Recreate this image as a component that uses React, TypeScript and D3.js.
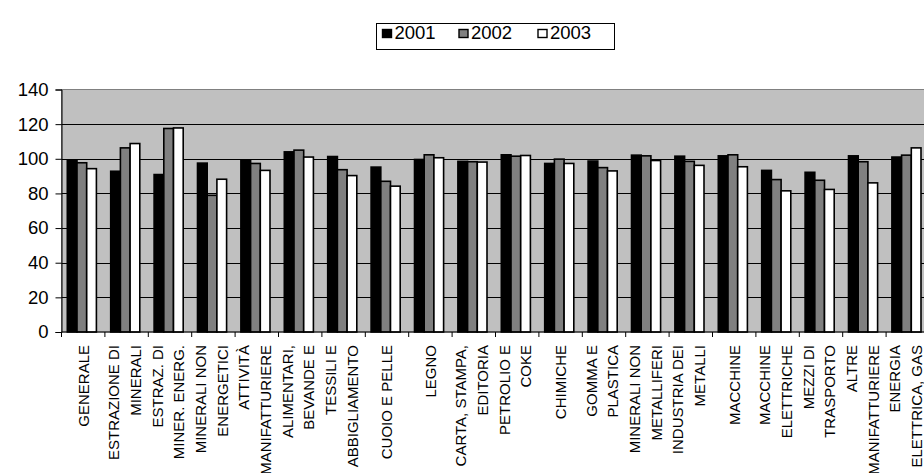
import React, { useRef, useEffect } from 'react';
import * as d3 from 'd3';

// category labels, one entry per line of the wrapped label
const categories: string[][] = [
  ['GENERALE'],
  ['ESTRAZIONE DI', 'MINERALI'],
  ['ESTRAZ. DI', 'MINER. ENERG.'],
  ['MINERALI NON', 'ENERGETICI'],
  ['ATTIVITÀ', 'MANIFATTURIERE'],
  ['ALIMENTARI,', 'BEVANDE E'],
  ['TESSILI E', 'ABBIGLIAMENTO'],
  ['CUOIO E PELLE'],
  ['LEGNO'],
  ['CARTA, STAMPA,', 'EDITORIA'],
  ['PETROLIO E', 'COKE'],
  ['CHIMICHE'],
  ['GOMMA E', 'PLASTICA'],
  ['MINERALI NON', 'METALLIFERI'],
  ['INDUSTRIA DEI', 'METALLI'],
  ['MACCHINE'],
  ['MACCHINE', 'ELETTRICHE'],
  ['MEZZI DI', 'TRASPORTO'],
  ['ALTRE', 'MANIFATTURIERE'],
  ['ENERGIA', 'ELETTRICA, GAS'],
];

const years = ['2001', '2002', '2003'];

const values2001 = [99.4, 92.8, 90.9, 97.5, 99.4, 104, 101.3, 95.2, 99.6, 98.5, 102.3, 97.3, 98.7, 102.1, 101.5, 101.7, 93.3, 92.2, 101.7, 101];
const values2002 = [97.7, 106.3, 117.5, 78.9, 97.3, 105, 93.7, 87, 102.3, 98.3, 101.5, 99.8, 94.9, 101.7, 98.5, 102.3, 88, 87.6, 98.3, 102.1];
const values2003 = [94.3, 108.8, 117.8, 88.2, 93.3, 101, 90.3, 84.2, 100.6, 98.1, 101.9, 97.3, 93, 99, 96.2, 95.4, 81.5, 82.3, 86.1, 106.3];

const series = [values2001, values2002, values2003];
const colors = ['#000000', '#808080', '#ffffff'];

const yTicks = [0, 20, 40, 60, 80, 100, 120, 140];

const W = 924;
const H = 473;

const App: React.FC = () => {
  const svgRef = useRef<SVGSVGElement>(null);

  useEffect(() => {
    if (!svgRef.current) return;
    const svg = d3.select(svgRef.current);
    svg.selectAll('*').remove();

    const left = 61.5;
    const step = 43.4;
    const top = 89.5;
    const bottom = 332;

    const x = d3.scaleBand<number>()
      .domain(d3.range(categories.length))
      .range([left, left + step * categories.length]);

    const inner = d3.scaleBand<number>()
      .domain(d3.range(years.length))
      .range([5.8, 34.9]);

    const y = d3.scaleLinear().domain([0, 140]).range([bottom, top]);

    const font = 'Arial, "Liberation Sans", sans-serif';

    // plot area
    svg.append('rect')
      .attr('x', left).attr('y', top)
      .attr('width', W - left + 10).attr('height', bottom - top)
      .attr('fill', '#c0c0c0')
      .attr('stroke', '#808080').attr('stroke-width', 1);

    // gridlines
    svg.append('g')
      .selectAll('line')
      .data(yTicks.filter(t => t > 0 && t < 140))
      .join('line')
      .attr('x1', left).attr('x2', W)
      .attr('y1', d => Math.round(y(d)) + 0.5).attr('y2', d => Math.round(y(d)) + 0.5)
      .attr('stroke', '#000').attr('stroke-width', 1);

    // bars
    series.forEach((vals, si) => {
      svg.append('g')
        .selectAll('rect')
        .data(vals)
        .join('rect')
        .attr('x', (_, i) => (x(i) || 0) + (inner(si) || 0))
        .attr('y', d => y(d))
        .attr('width', inner.bandwidth())
        .attr('height', d => bottom - y(d))
        .attr('fill', colors[si])
        .attr('stroke', '#000')
        .attr('stroke-width', 1.6);
    });

    // y axis
    const yAxis = d3.axisLeft(y).tickValues(yTicks).tickSize(6).tickPadding(7);
    const gy = svg.append('g').attr('transform', `translate(${left},0)`).call(yAxis);
    gy.select('.domain').attr('stroke', '#000');
    gy.selectAll('line').attr('stroke', '#000');
    gy.selectAll('text')
      .attr('font-family', font)
      .attr('font-size', 18.5)
      .attr('fill', '#000');

    // x axis line and ticks at category boundaries
    svg.append('line')
      .attr('x1', left).attr('x2', W)
      .attr('y1', bottom).attr('y2', bottom)
      .attr('stroke', '#000').attr('stroke-width', 1.2);
    svg.append('g')
      .selectAll('line')
      .data(d3.range(categories.length + 1))
      .join('line')
      .attr('x1', i => left + i * step).attr('x2', i => left + i * step)
      .attr('y1', bottom).attr('y2', bottom + 5)
      .attr('stroke', '#000');

    // category labels, rotated
    const labels = svg.append('g');
    categories.forEach((lines, i) => {
      const cx = (x(i) || 0) + x.bandwidth() / 2;
      const spacing = 21.5;
      lines.forEach((line, li) => {
        const off = lines.length === 1 ? 0 : -2 + (li - (lines.length - 1) / 2) * spacing;
        labels.append('text')
          .attr('transform', `translate(${cx + off},345) rotate(-90)`)
          .attr('text-anchor', 'end')
          .attr('dy', '0.36em')
          .attr('font-family', font)
          .attr('font-size', 15)
          .attr('fill', '#000')
          .text(line);
      });
    });

    // legend
    const lg = svg.append('g');
    lg.append('rect')
      .attr('x', 376.5).attr('y', 23.5)
      .attr('width', 238).attr('height', 26)
      .attr('fill', '#fff').attr('stroke', '#000');
    const legendX = [382.5, 459, 538];
    years.forEach((yr, i) => {
      lg.append('rect')
        .attr('x', legendX[i]).attr('y', 29.5)
        .attr('width', 9).attr('height', 8)
        .attr('fill', colors[i]).attr('stroke', '#000').attr('stroke-width', 1.4);
      lg.append('text')
        .attr('x', legendX[i] + 12).attr('y', 38.8)
        .attr('font-family', font)
        .attr('font-size', 18.5)
        .attr('fill', '#000')
        .text(yr);
    });
  }, []);

  return (
    <div style={{ position: 'absolute', left: 0, top: 0 }}>
      <svg ref={svgRef} width={W} height={H} style={{ display: 'block', background: '#fff' }}></svg>
    </div>
  );
};

export default App;
